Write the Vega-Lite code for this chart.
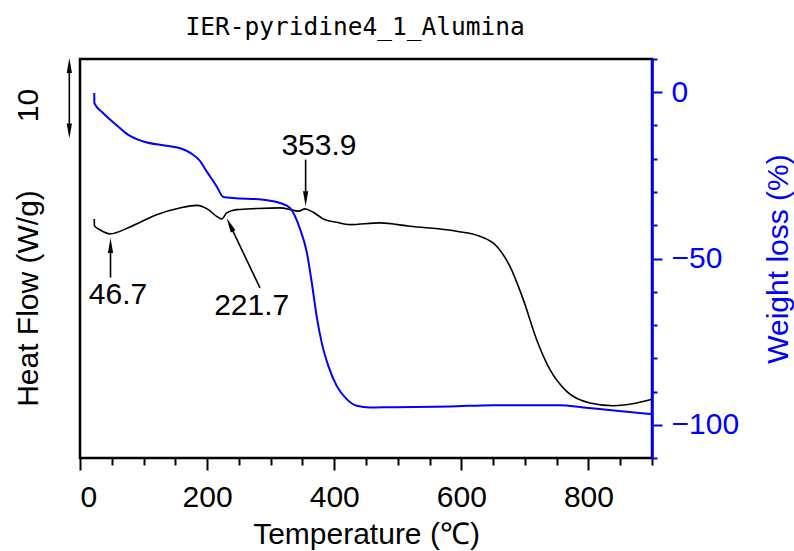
{
  "$schema": "https://vega.github.io/schema/vega-lite/v6.json",
  "width": 572,
  "height": 399,
  "autosize": {"type": "none"},
  "padding": {"left": 80, "top": 59, "right": 142, "bottom": 93},
  "background": "white",
  "title": {
    "text": "IER-pyridine4_1_Alumina",
    "font": "DejaVu Sans Mono",
    "fontSize": 24.5,
    "fontWeight": "normal",
    "color": "black",
    "anchor": "middle",
    "dx": -11,
    "offset": 17
  },
  "config": {
    "font": "Liberation Sans",
    "view": {"stroke": "black", "strokeWidth": 2.5},
    "axis": {"grid": false, "labelFontSize": 30, "titleFontSize": 30, "titleFontWeight": "normal", "labelFont": "Liberation Sans", "titleFont": "Liberation Sans"},
    "axisBottom": {
      "domain": false,
      "values": [0, 100, 200, 300, 400, 500, 600, 700, 800, 900],
      "labelExpr": "datum.value % 200 === 0 && datum.value < 900 ? datum.label : ''",
      "tickSize": {"condition": {"test": "datum.value % 200 === 0", "value": 12}, "value": 7},
      "tickColor": "black",
      "tickWidth": 2,
      "labelColor": "black",
      "labelPadding": 12,
      "titleColor": "black",
      "titleBaseline": "alphabetic",
      "titleY": 85
    },
    "axisLeft": {
      "labels": false,
      "ticks": false,
      "domain": false,
      "titleColor": "black",
      "titleAngle": 270,
      "titleBaseline": "alphabetic",
      "titleAlign": "center",
      "titleX": -43,
      "titleY": 239
    },
    "axisRight": {
      "domainColor": "#0000ff",
      "domainWidth": 2.5,
      "tickColor": "#0000ff",
      "tickWidth": 2,
      "tickSize": {"condition": {"test": "datum.value % 50 === 0", "value": 10}, "value": 5},
      "values": [-100, -75, -50, -25, 0],
      "labelExpr": "datum.value % 50 === 0 ? datum.label : ''",
      "labelColor": "#0000ff",
      "labelPadding": 9,
      "titleColor": "#0000ff",
      "titleAngle": 270,
      "titleBaseline": "alphabetic",
      "titleAlign": "center",
      "titleX": 135,
      "titleY": 199.5
    }
  },
  "datasets": {
    "dsc": [
      {"t": 22.5, "hf": 29.54}, {"t": 22.6, "hf": 28.71}, {"t": 31.5, "hf": 28.2}, {"t": 47, "hf": 27.69},
      {"t": 78.7, "hf": 28.55}, {"t": 120.6, "hf": 30.07}, {"t": 157, "hf": 30.9}, {"t": 183.6, "hf": 31.22},
      {"t": 201.9, "hf": 30.69}, {"t": 215, "hf": 29.86}, {"t": 223, "hf": 29.54}, {"t": 230.8, "hf": 30.28},
      {"t": 246.5, "hf": 30.69}, {"t": 278, "hf": 30.82}, {"t": 314.6, "hf": 30.9}, {"t": 335.6, "hf": 30.61},
      {"t": 344, "hf": 30.5}, {"t": 354, "hf": 30.78}, {"t": 367, "hf": 30.36}, {"t": 382.8, "hf": 29.54},
      {"t": 403.9, "hf": 29.12}, {"t": 424.8, "hf": 28.84}, {"t": 472, "hf": 29.05}, {"t": 519, "hf": 28.63},
      {"t": 592.6, "hf": 28.01}, {"t": 629, "hf": 27.39}, {"t": 655.6, "hf": 26.16}, {"t": 676.5, "hf": 23.68},
      {"t": 697.5, "hf": 19.57}, {"t": 718.5, "hf": 14.62}, {"t": 739.5, "hf": 10.91}, {"t": 765.7, "hf": 8.23},
      {"t": 802.4, "hf": 6.8}, {"t": 839, "hf": 6.46}, {"t": 875.9, "hf": 6.8}, {"t": 900, "hf": 7.25}
    ],
    "tga": [
      {"t": 22.5, "w": -0.2}, {"t": 22.6, "w": -3.3}, {"t": 35, "w": -6.0}, {"t": 47.2, "w": -8.2},
      {"t": 60, "w": -10.3}, {"t": 76, "w": -12.8}, {"t": 99.6, "w": -14.8}, {"t": 136, "w": -16.1},
      {"t": 160, "w": -17.0}, {"t": 175, "w": -18.4}, {"t": 188, "w": -20.5}, {"t": 199.3, "w": -23.8},
      {"t": 215, "w": -28.3}, {"t": 225.5, "w": -31.5}, {"t": 241, "w": -31.8}, {"t": 288.4, "w": -32.3},
      {"t": 314.6, "w": -33.3}, {"t": 330.4, "w": -34.8}, {"t": 346, "w": -41.0}, {"t": 356.7, "w": -48.0},
      {"t": 364.5, "w": -57.0}, {"t": 372.4, "w": -67.4}, {"t": 380.3, "w": -75.3}, {"t": 390.7, "w": -82.3},
      {"t": 403.9, "w": -88.3}, {"t": 419.6, "w": -92.3}, {"t": 435.3, "w": -94.3}, {"t": 456.3, "w": -94.8},
      {"t": 487.7, "w": -94.7}, {"t": 582, "w": -94.5}, {"t": 650, "w": -94.1}, {"t": 755, "w": -94.1},
      {"t": 792, "w": -94.8}, {"t": 844, "w": -95.8}, {"t": 900, "w": -96.8}
    ],
    "shafts": [
      {"t": 48, "hf": 22.29, "t2": 48, "hf2": 26.0},
      {"t": 283.2, "hf": 21.01, "t2": 235.8, "hf2": 28.83},
      {"t": 355, "hf": 36.87, "t2": 355, "hf2": 32.3},
      {"t": -16.8, "hf": 40.6, "t2": -16.8, "hf2": 48.3}
    ],
    "heads": [
      {"t": 48, "hf": 26.27, "dir": "up"},
      {"t": 235.8, "hf": 28.83, "dir": "diag"},
      {"t": 355, "hf": 32.03, "dir": "down"},
      {"t": -16.8, "hf": 48.51, "dir": "up"},
      {"t": -16.8, "hf": 40.4, "dir": "down"}
    ],
    "notes": [
      {"t": 59.8, "hf": 20.19, "label": "46.7"},
      {"t": 270.1, "hf": 18.76, "label": "221.7"},
      {"t": 376, "hf": 38.6, "label": "353.9"}
    ],
    "scalebar": [
      {"t": -80.2, "hf": 43.56, "label": "10"}
    ]
  },
  "layer": [
    {
      "layer": [
        {
          "data": {"name": "dsc"},
          "mark": {"type": "line", "color": "black", "strokeWidth": 1.6, "interpolate": "monotone"},
          "encoding": {
            "x": {"field": "t", "type": "quantitative", "scale": {"domain": [0, 900], "nice": false}, "title": "Temperature (℃)"},
            "y": {"field": "hf", "type": "quantitative", "scale": {"domain": [0, 49.3], "nice": false, "zero": false}, "title": "Heat Flow (W/g)"}
          }
        },
        {
          "data": {"name": "shafts"},
          "mark": {"type": "rule", "color": "black", "strokeWidth": 1.6},
          "encoding": {
            "x": {"field": "t", "type": "quantitative", "title": "Temperature (℃)"},
            "y": {"field": "hf", "type": "quantitative", "title": "Heat Flow (W/g)"},
            "x2": {"field": "t2"},
            "y2": {"field": "hf2"}
          }
        },
        {
          "data": {"name": "heads"},
          "transform": [{"filter": "datum.dir === 'up'"}],
          "mark": {"type": "point", "shape": "M0,-1L-0.35,1L0.35,1Z", "size": 225, "filled": true, "color": "black", "opacity": 1, "strokeWidth": 0},
          "encoding": {
            "x": {"field": "t", "type": "quantitative", "title": "Temperature (℃)"},
            "y": {"field": "hf", "type": "quantitative", "title": "Heat Flow (W/g)"}
          }
        },
        {
          "data": {"name": "heads"},
          "transform": [{"filter": "datum.dir === 'down'"}],
          "mark": {"type": "point", "shape": "M0,-1L-0.35,1L0.35,1Z", "angle": 180, "size": 225, "filled": true, "color": "black", "opacity": 1, "strokeWidth": 0},
          "encoding": {
            "x": {"field": "t", "type": "quantitative", "title": "Temperature (℃)"},
            "y": {"field": "hf", "type": "quantitative", "title": "Heat Flow (W/g)"}
          }
        },
        {
          "data": {"name": "heads"},
          "transform": [{"filter": "datum.dir === 'diag'"}],
          "mark": {"type": "point", "shape": "M0,-1L-0.35,1L0.35,1Z", "angle": 334.5, "size": 225, "filled": true, "color": "black", "opacity": 1, "strokeWidth": 0},
          "encoding": {
            "x": {"field": "t", "type": "quantitative", "title": "Temperature (℃)"},
            "y": {"field": "hf", "type": "quantitative", "title": "Heat Flow (W/g)"}
          }
        },
        {
          "data": {"name": "notes"},
          "mark": {"type": "text", "font": "Liberation Sans", "fontSize": 30, "color": "black", "align": "center", "baseline": "middle"},
          "encoding": {
            "x": {"field": "t", "type": "quantitative", "title": "Temperature (℃)"},
            "y": {"field": "hf", "type": "quantitative", "title": "Heat Flow (W/g)"},
            "text": {"field": "label"}
          }
        },
        {
          "data": {"name": "scalebar"},
          "mark": {"type": "text", "font": "Liberation Sans", "fontSize": 30, "color": "black", "align": "center", "baseline": "middle", "angle": 270},
          "encoding": {
            "x": {"field": "t", "type": "quantitative", "title": "Temperature (℃)"},
            "y": {"field": "hf", "type": "quantitative", "title": "Heat Flow (W/g)"},
            "text": {"field": "label"}
          }
        }
      ]
    },
    {
      "data": {"name": "tga"},
      "mark": {"type": "line", "color": "#0000ff", "strokeWidth": 2, "interpolate": "monotone"},
      "encoding": {
        "x": {"field": "t", "type": "quantitative", "title": "Temperature (℃)"},
        "y": {"field": "w", "type": "quantitative", "scale": {"domain": [-110, 10], "nice": false, "zero": false}, "axis": {"orient": "right"}, "title": "Weight loss (%)"}
      }
    }
  ],
  "resolve": {"scale": {"y": "independent"}}
}
